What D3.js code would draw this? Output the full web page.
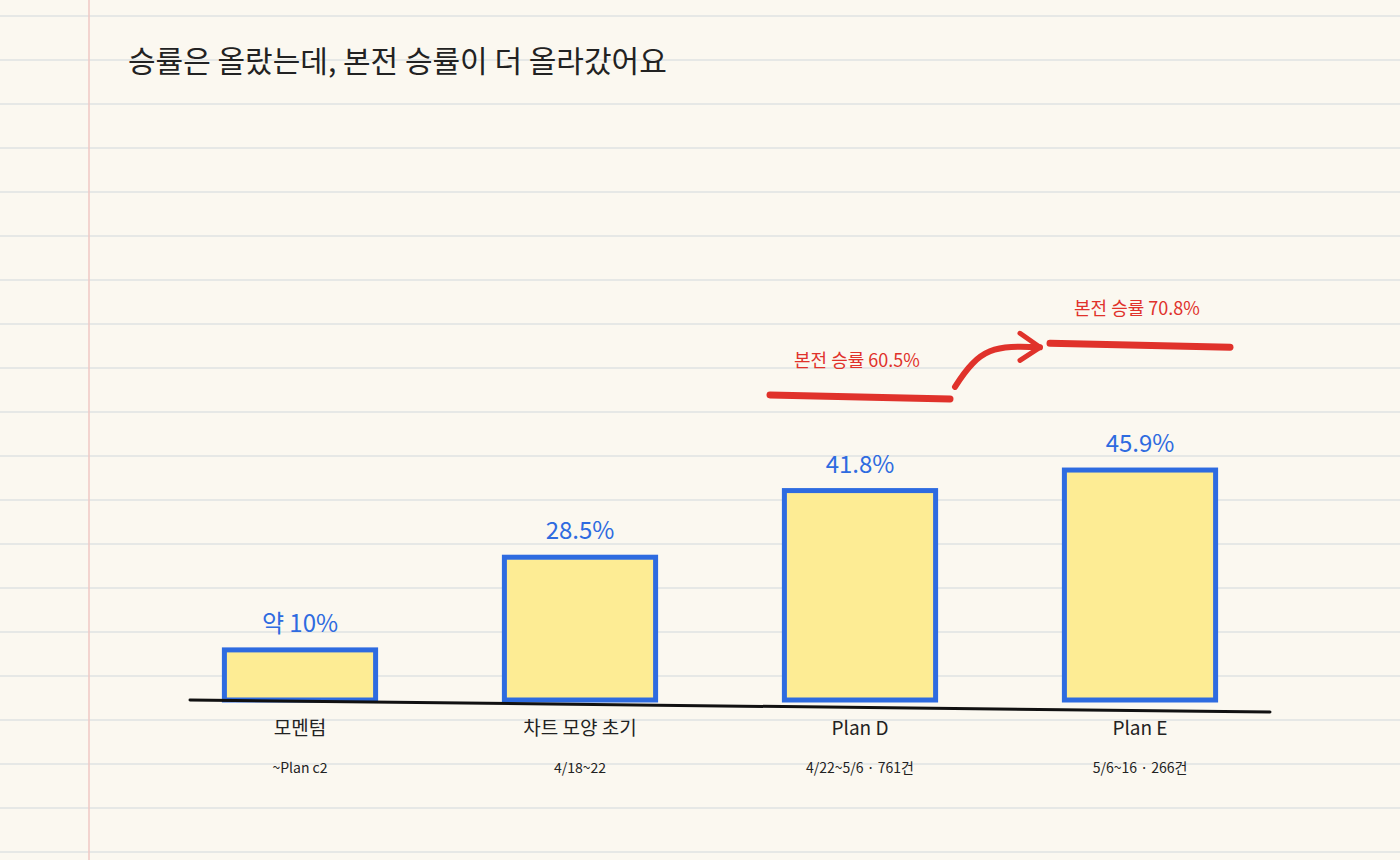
<!DOCTYPE html>
<html><head><meta charset="utf-8">
<script src="https://cdn.jsdelivr.net/npm/d3@7"></script>
<style>body{margin:0;background:#fbf8f0}</style>
</head><body><div id="chart"></div>
<script>
// data
var categories = ['모멘텀', '차트 모양 초기', 'Plan D', 'Plan E'];
var subLabels = ['~Plan c2', '4/18~22', '4/22~5/6 · 761건', '5/6~16 · 266건'];
var winRates = [10, 28.5, 41.8, 45.9];
var valueLabels = ['약 10%', '28.5%', '41.8%', '45.9%'];
var breakEven = [{cat: 'Plan D', value: 60.5, label: '본전 승률 60.5%'},
                 {cat: 'Plan E', value: 70.8, label: '본전 승률 70.8%'}];

var W = 1400, H = 860, font = "'Noto Sans CJK KR', 'Noto Sans', sans-serif";
var svg = d3.select('#chart').append('svg').attr('width', W).attr('height', H);

svg.append('rect').attr('width', W).attr('height', H).attr('fill', '#fbf8f0');
// ruled paper
d3.range(16, H, 44).forEach(function(y) {
	svg.append('line').attr('x1', 0).attr('x2', W).attr('y1', y).attr('y2', y)
		.attr('stroke', '#e6e8e6').attr('stroke-width', 2);
});
svg.append('line').attr('x1', 89).attr('x2', 89).attr('y1', 0).attr('y2', H)
	.attr('stroke', '#efc9c4').attr('stroke-width', 1.5);

svg.append('text').attr('x', 128).attr('y', 72).attr('font-family', font)
	.attr('font-size', 30).attr('fill', '#222').text('승률은 올랐는데, 본전 승률이 더 올라갔어요');

var x = d3.scaleBand().domain(categories).range([160, 1280]).paddingInner(0.46).paddingOuter(0.23);
var y = d3.scaleLinear().domain([0, 100]).range([700, 199]);

categories.forEach(function(c, i) {
	var cx = x(c) + x.bandwidth() / 2;
	svg.append('rect').attr('x', x(c)).attr('y', y(winRates[i]))
		.attr('width', x.bandwidth()).attr('height', y(0) - y(winRates[i]))
		.attr('fill', '#fdec94').attr('stroke', '#2e6be0').attr('stroke-width', 5);
	svg.append('text').attr('x', cx).attr('y', y(winRates[i]) - 18).attr('text-anchor', 'middle')
		.attr('font-family', font).attr('font-size', 24).attr('fill', '#2e6be0').text(valueLabels[i]);
	svg.append('text').attr('x', cx).attr('y', 735).attr('text-anchor', 'middle')
		.attr('font-family', font).attr('font-size', 19).attr('fill', '#222').text(c);
	svg.append('text').attr('x', cx).attr('y', 773).attr('text-anchor', 'middle')
		.attr('font-family', font).attr('font-size', 14).attr('fill', '#222').text(subLabels[i]);
});

// baseline
svg.append('line').attr('x1', 190).attr('x2', 1270).attr('y1', 700).attr('y2', 712)
	.attr('stroke', '#111').attr('stroke-width', 3).attr('stroke-linecap', 'round');

// break-even lines
var red = '#e0322b';
breakEven.forEach(function(b) {
	var cx = x(b.cat) + x.bandwidth() / 2;
	svg.append('line').attr('x1', cx - 90).attr('x2', cx + 90)
		.attr('y1', y(b.value) - 2).attr('y2', y(b.value) + 2)
		.attr('stroke', red).attr('stroke-width', 7).attr('stroke-linecap', 'round');
	svg.append('text').attr('x', cx - 3).attr('y', y(b.value) - 30).attr('text-anchor', 'middle')
		.attr('font-family', font).attr('font-size', 18).attr('fill', red).text(b.label);
});
// arrow between
var a0 = x('Plan D') + x.bandwidth() / 2 + 95, a1 = x('Plan E') + x.bandwidth() / 2 - 100;
var p0 = [a0, y(breakEven[0].value) - 10], p1 = [a1, y(breakEven[1].value) + 2];
svg.append('path').attr('d', 'M' + p0 + ' C' + [p0[0] + 25, p0[1] - 40] + ' ' + [p0[0] + 40, p1[1] - 2] + ' ' + p1)
	.attr('fill', 'none').attr('stroke', red).attr('stroke-width', 6).attr('stroke-linecap', 'round');
svg.append('path').attr('d', 'M' + [p1[0] - 20, p1[1] - 14] + ' L' + p1 + ' L' + [p1[0] - 20, p1[1] + 13])
	.attr('fill', 'none').attr('stroke', red).attr('stroke-width', 5).attr('stroke-linecap', 'round').attr('stroke-linejoin', 'round');
</script></body></html>
